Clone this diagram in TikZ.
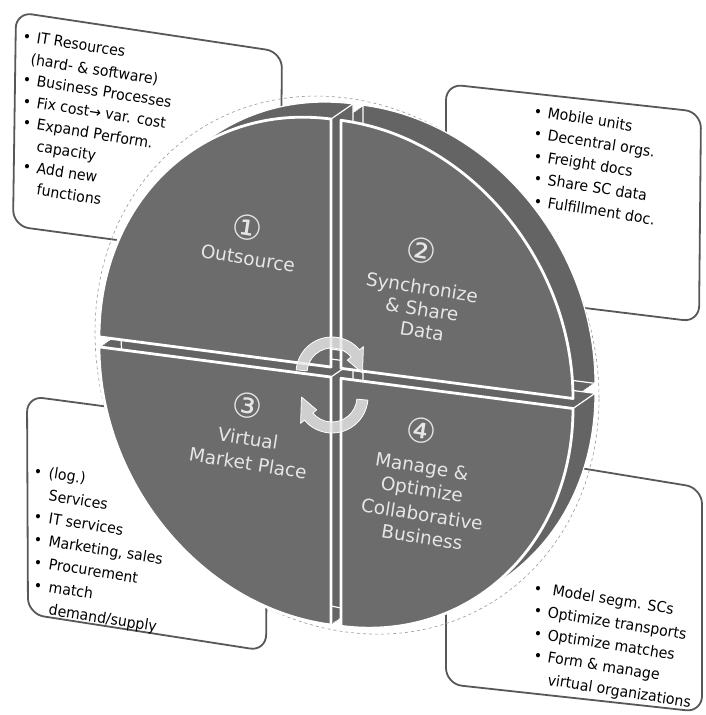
\documentclass[tikz,border=0pt]{standalone}
\usepackage{fontspec}
\setmainfont{DejaVu Sans}
\definecolor{face}{RGB}{108,108,108}
\definecolor{band}{RGB}{100,100,100}
\definecolor{qtext}{RGB}{230,230,230}
\definecolor{cardline}{RGB}{88,88,88}
\definecolor{arrowfill}{RGB}{232,232,232}

% the four quarter pieces of the disk, drawn around the centre of the disk
\newcommand\wedgeA[1]{\path[#1] (-5,-5) -- (-237,-5) arc[start angle=180,end angle=90,x radius=232pt,y radius=248pt] -- cycle;}
\newcommand\wedgeB[1]{\path[#1] (5,-5) -- (5,-253) arc[start angle=90,end angle=0,x radius=232pt,y radius=248pt] -- cycle;}
\newcommand\wedgeC[1]{\path[#1] (-5,5) -- (-237,5) arc[start angle=180,end angle=270,x radius=232pt,y radius=248pt] -- cycle;}
\newcommand\wedgeD[1]{\path[#1] (5,5) -- (237,5) arc[start angle=0,end angle=-90,x radius=232pt,y radius=248pt] -- cycle;}
% depth of the disk
\newcommand\solid[2]{%
  \foreach \t in {0,...,12}{#1{fill=band, shift={(1.8333*\t,-1.5*\t)}}}
  #1{draw=white, line width=1.2pt, shift={(22,-18)}}
  \foreach \c in {#2}{\draw[white, line width=1.2pt] \c -- ++(22,-18);}
}

\begin{document}
\begin{tikzpicture}[x=1pt,y=-1pt,
  card/.style={draw=cardline, line width=1.8pt, fill=white, rounded corners=16pt},
  item/.style={anchor=base west, inner sep=0pt, rotate=-9, xscale=0.94,
    font=\fontsize{15}{18}\selectfont},
  dot/.style={item},
  qtxt/.style={anchor=base, text=qtext, inner sep=0pt, rotate=-9,
    font=\fontsize{18.5}{22}\selectfont},
  qnum/.style={text=qtext, inner sep=0pt, rotate=-9, font=\fontsize{34}{34}\selectfont},
  turn/.style={fill=arrowfill, fill opacity=0.8, draw=white, line width=0.8pt, line join=round},
  piece/.style={fill=face, draw=white, line width=2.8pt, line join=round},
]
\fill[white] (0,0) rectangle (706,715);
\useasboundingbox (0,0) rectangle (706,715);

% corner cards
\draw[card] (16,12) -- (282,52) -- (280,262) -- (13,226) -- cycle;
\draw[card] (446,84) -- (701,112) -- (699,322) -- (446,291) -- cycle;
\draw[card] (27,396) -- (268,428) -- (266,651) -- (28,614) -- cycle;
\draw[card] (446,446) -- (702,488) -- (702,712) -- (446,684) -- cycle;

% the disk, seen at a slant
\begin{scope}[yslant=-0.13, shift={(336,329)}]
  \draw[gray!80, dashed, line width=0.6pt] (11,-9) ellipse [x radius=252pt, y radius=267pt];
  \solid{\wedgeB}{(5,-253),(237,-5),(5,-5)}
  \solid{\wedgeD}{(237,5),(5,5)}
  \solid{\wedgeA}{(-5,-253),(-5,-5),(-237,-5)}
  \solid{\wedgeC}{(-5,5),(-237,5)}
  \wedgeA{piece}
  \wedgeB{piece}
  \wedgeC{piece}
  \wedgeD{piece}
\end{scope}

% card 1: outsourcing
\node[dot]  (d11) at (22,41)    {•};
\node[item] (a11) at (36,43)    {IT Resources};
\node[item] (a12) at (30,64.7)  {(hard- \& software)};
\node[dot]  (d13) at (22,84.4)  {•};
\node[item] (a13) at (36,86.4)  {Business Processes};
\node[dot]  (d14) at (22,106.1) {•};
\node[item] (a14) at (36,108.1) {Fix cost→ var. cost};
\node[dot]  (d15) at (22,127.8) {•};
\node[item] (a15) at (36,129.8) {Expand Perform.};
\node[item] (a16) at (36,151.5) {capacity};
\node[dot]  (d17) at (22,171.2) {•};
\node[item] (a17) at (36,173.2) {Add new};
\node[item] (a18) at (36,194.9) {functions};

% card 2: shared data
\node[dot]  (d21) at (533,116)   {•};
\node[item] (a21) at (547,118)   {Mobile units};
\node[dot]  (d22) at (533,138.5) {•};
\node[item] (a22) at (547,140.5) {Decentral orgs.};
\node[dot]  (d23) at (533,161)   {•};
\node[item] (a23) at (547,163)   {Freight docs};
\node[dot]  (d24) at (533,183.5) {•};
\node[item] (a24) at (547,185.5) {Share SC data};
\node[dot]  (d25) at (533,206)   {•};
\node[item] (a25) at (547,208)   {Fulfillment doc.};

% card 3: market place
\node[dot]  (d31) at (33,476)    {•};
\node[item] (a31) at (48,478)    {(log.)};
\node[item] (a32) at (48,500.8)  {Services};
\node[dot]  (d33) at (33,521.6)  {•};
\node[item] (a33) at (48,523.6)  {IT services};
\node[dot]  (d34) at (33,544.4)  {•};
\node[item] (a34) at (48,546.4)  {Marketing, sales};
\node[dot]  (d35) at (33,567.2)  {•};
\node[item] (a35) at (48,569.2)  {Procurement};
\node[dot]  (d36) at (33,590)    {•};
\node[item] (a36) at (48,592)    {match};
\node[item] (a37) at (48,614.8)  {demand/supply};

% card 4: collaboration
\node[dot]  (d41) at (533,593)   {•};
\node[item] (a41) at (552,595.5) {Model segm. SCs};
\node[dot]  (d42) at (533,615.5) {•};
\node[item] (a42) at (547,617.5) {Optimize transports};
\node[dot]  (d43) at (533,638)   {•};
\node[item] (a43) at (547,640)   {Optimize matches};
\node[dot]  (d44) at (533,660.5) {•};
\node[item] (a44) at (547,662.5) {Form \& manage};
\node[item] (a45) at (547,685)   {virtual organizations};

% quarter labels
\node[qnum] (n1)  at (247,228) {①};
\node[qtxt] (t11) at (247,265) {Outsource};
\node[qnum] (n2)  at (421,251) {②};
\node[qtxt] (t21) at (421,294) {Synchronize};
\node[qtxt] (t22) at (421,316) {\& Share};
\node[qtxt] (t23) at (421,338) {Data};
\node[qnum] (n3)  at (247,406) {③};
\node[qtxt] (t31) at (247,445) {Virtual};
\node[qtxt] (t32) at (247,470) {Market Place};
\node[qnum] (n4)  at (421,431) {④};
\node[qtxt] (t41) at (421,473) {Manage \&};
\node[qtxt] (t42) at (421,496) {Optimize};
\node[qtxt] (t43) at (421,521) {Collaborative};
\node[qtxt] (t44) at (421,544) {Business};

% turning arrows in the middle
\coordinate (ua) at (332,373);
\coordinate (la) at (332,397);
\path[turn] ([shift={(175:36pt)}]ua) arc[start angle=175,end angle=40,radius=36pt]
  -- ([shift={(40:41pt)}]ua) -- ([shift={(0:30.5pt)}]ua) -- ([shift={(40:20pt)}]ua)
  -- ([shift={(40:25pt)}]ua) arc[start angle=40,end angle=175,radius=25pt] -- cycle;
\path[turn] ([shift={(-5:36pt)}]la) arc[start angle=-5,end angle=-140,radius=36pt]
  -- ([shift={(-140:41pt)}]la) -- ([shift={(-180:30.5pt)}]la) -- ([shift={(-140:20pt)}]la)
  -- ([shift={(-140:25pt)}]la) arc[start angle=-140,end angle=-5,radius=25pt] -- cycle;
\end{tikzpicture}
\end{document}
